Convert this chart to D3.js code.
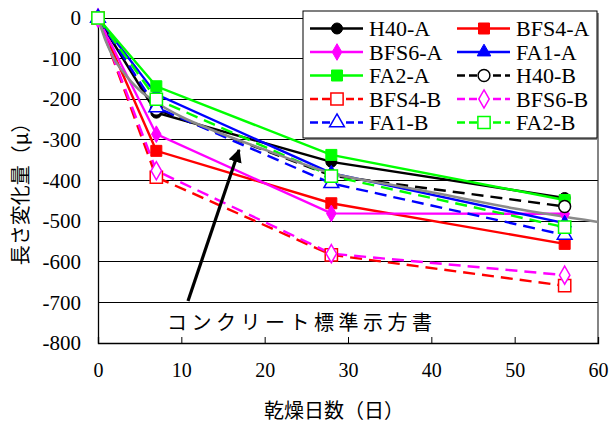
<!DOCTYPE html>
<html>
<head>
<meta charset="utf-8">
<script src="https://cdn.jsdelivr.net/npm/d3@7"></script>
<style>
  html, body { margin: 0; padding: 0; background: #fff; }
  svg { display: block; }
  .serif { font-family: "Liberation Serif", "Times New Roman", Times, "DejaVu Serif", serif; }
  .cjk { font-family: "Noto Sans CJK JP", sans-serif; }
</style>
</head>
<body>
<svg id="chart" width="611" height="426"></svg>
<script>
// Drying days at which length change was measured
const days = [0, 7, 28, 56];

// Length change (μ) per mix
const seriesNames = ["H40-A", "BFS4-A", "BFS6-A", "FA1-A", "FA2-A",
                     "H40-B", "BFS4-B", "BFS6-B", "FA1-B", "FA2-B"];
const h40A  = [0, -233, -354, -443];
const bfs4A = [0, -327, -456, -556];
const bfs6A = [0, -286, -481, -482];
const fa1A  = [0, -188, -382, -505];
const fa2A  = [0, -168, -337, -448];
const h40B  = [0, -225, -388, -464];
const bfs4B = [0, -392, -583, -659];
const bfs6B = [0, -376, -580, -633];
const fa1B  = [0, -220, -407, -534];
const fa2B  = [0, -200, -389, -515];

// Standard specification (コンクリート標準示方書) prediction curve
const stdDays   = [0, 1, 2, 3, 4, 5, 7, 10, 14, 20, 28, 35, 40, 50, 60];
const stdValues = [0, -60, -103, -132, -157, -178, -208, -243, -278, -324, -382, -410, -429, -469, -502];

const xTicks = [0, 10, 20, 30, 40, 50, 60];
const yTicks = [0, -100, -200, -300, -400, -500, -600, -700, -800];

const seriesValues = [h40A, bfs4A, bfs6A, fa1A, fa2A, h40B, bfs4B, bfs6B, fa1B, fa2B];
const seriesStyle = [
  { color: "#000000", dash: null, symbol: d3.symbolCircle,   size: 95,  filled: true },
  { color: "#ff0000", dash: null, symbol: d3.symbolSquare,   size: 121, filled: true },
  { color: "#ff00ff", dash: null, symbol: d3.symbolDiamond,  size: 80,  filled: true },
  { color: "#0000ff", dash: null, symbol: d3.symbolTriangle, size: 80,  filled: true },
  { color: "#00ff00", dash: null, symbol: d3.symbolSquare,   size: 121, filled: true },
  { color: "#000000", dash: "12,7", symbol: d3.symbolCircle,   size: 110, filled: false },
  { color: "#ff0000", dash: "12,7", symbol: d3.symbolSquare,   size: 150, filled: false },
  { color: "#ff00ff", dash: "12,7", symbol: d3.symbolDiamond,  size: 95,  filled: false },
  { color: "#0000ff", dash: "12,7", symbol: d3.symbolTriangle, size: 95,  filled: false },
  { color: "#00ff00", dash: "12,7", symbol: d3.symbolSquare,   size: 150, filled: false }
];

const svg = d3.select("#chart");
const plotLeft = 98, plotRight = 598, plotTop = 18, plotBottom = 343;

const x = d3.scaleLinear().domain([0, 60]).range([plotLeft, plotRight]);
const y = d3.scaleLinear().domain([-800, 0]).range([plotBottom, plotTop]);

// Horizontal gridlines
svg.append("g")
  .selectAll("line")
  .data(yTicks)
  .join("line")
  .attr("x1", plotLeft).attr("x2", plotRight)
  .attr("y1", d => y(d)).attr("y2", d => y(d))
  .attr("stroke", "#000").attr("stroke-width", 1)
  .attr("shape-rendering", "crispEdges");

// Right frame edge
svg.append("line")
  .attr("x1", plotRight).attr("x2", plotRight).attr("y1", plotTop).attr("y2", plotBottom)
  .attr("stroke", "#333").attr("stroke-width", 1.2);

// Y axis (labels only, no tick marks)
const yAxis = d3.axisLeft(y).tickValues(yTicks).tickSize(0).tickPadding(17)
  .tickFormat(d3.format("d"));
const gy = svg.append("g").attr("transform", `translate(${plotLeft},0)`).call(yAxis);
gy.attr("font-family", null).attr("font-size", null);
gy.select(".domain").attr("stroke", "#000").attr("stroke-width", 1.3);
gy.selectAll("text").attr("class", "serif").style("font-size", "21px").attr("fill", "#000")
  .text(d => d === 0 ? "0" : "-" + Math.abs(d));

// X axis with inward ticks
const xAxis = d3.axisBottom(x).tickValues(xTicks).tickSize(-6).tickPadding(20)
  .tickFormat(d3.format("d"));
const gx = svg.append("g").attr("transform", `translate(0,${plotBottom})`).call(xAxis);
gx.attr("font-family", null).attr("font-size", null);
gx.select(".domain").attr("stroke", "#000").attr("stroke-width", 1.3);
gx.selectAll(".tick line").attr("stroke", "#000").attr("stroke-width", 1);
gx.selectAll("text").attr("class", "serif").style("font-size", "20px").attr("fill", "#000");

// Axis titles
svg.append("text")
  .attr("class", "cjk")
  .attr("x", 264).attr("y", 418)
  .attr("textLength", 140).attr("lengthAdjust", "spacing")
  .style("font-size", "20px").attr("fill", "#000")
  .text("乾燥日数（日）");

svg.append("text")
  .attr("class", "cjk")
  .attr("transform", "translate(28,189) rotate(-90)")
  .attr("text-anchor", "middle")
  .style("font-size", "20px").attr("fill", "#000")
  .text("長さ変化量（μ）");

// Series lines
const line = d3.line().x(d => x(d[0])).y(d => y(d[1]));
const linesG = svg.append("g");
seriesValues.forEach((vals, i) => {
  const st = seriesStyle[i];
  linesG.append("path")
    .datum(days.map((d, j) => [d, vals[j]]))
    .attr("d", line)
    .attr("fill", "none")
    .attr("stroke", st.color)
    .attr("stroke-width", 2.4)
    .attr("stroke-dasharray", st.dash);
});

// Prediction curve
svg.append("path")
  .datum(stdDays.map((d, j) => [d, stdValues[j]]))
  .attr("d", d3.line().x(d => x(d[0])).y(d => y(d[1])).curve(d3.curveMonotoneX))
  .attr("fill", "none")
  .attr("stroke", "#8a8a8a")
  .attr("stroke-width", 2.6);

// Markers
function drawMarker(g, st, cx, cy) {
  g.append("path")
    .attr("d", d3.symbol().type(st.symbol).size(st.size)())
    .attr("transform", `translate(${cx},${cy})`)
    .attr("fill", st.filled ? st.color : "#fff")
    .attr("stroke", st.color)
    .attr("stroke-width", st.filled ? 1 : 1.5);
}
const marksG = svg.append("g");
seriesValues.forEach((vals, i) => {
  const st = seriesStyle[i];
  days.forEach((d, j) => drawMarker(marksG, st, x(d), y(vals[j])));
});

// Annotation arrow and label
svg.append("defs").append("marker")
  .attr("id", "arrowHead")
  .attr("viewBox", "0 0 10 10")
  .attr("refX", 9).attr("refY", 5)
  .attr("markerWidth", 4.2).attr("markerHeight", 4.2)
  .attr("orient", "auto")
  .append("path").attr("d", "M0,0 L10,5 L0,10 Z").attr("fill", "#000");

svg.append("line")
  .attr("x1", 188).attr("y1", 301)
  .attr("x2", 239).attr("y2", 150)
  .attr("stroke", "#000").attr("stroke-width", 3.2)
  .attr("marker-end", "url(#arrowHead)");

svg.append("text")
  .attr("class", "cjk")
  .attr("x", 167).attr("y", 330)
  .attr("textLength", 265).attr("lengthAdjust", "spacing")
  .style("font-size", "20px").attr("fill", "#000")
  .text("コンクリート標準示方書");

// Legend
const lg = svg.append("g");
const lgX = 303, lgY = 11, lgW = 294, lgH = 127;
lg.append("rect")
  .attr("x", lgX + 2).attr("y", lgY + 2).attr("width", lgW).attr("height", lgH)
  .attr("fill", "#888");
lg.append("rect")
  .attr("x", lgX).attr("y", lgY).attr("width", lgW).attr("height", lgH)
  .attr("fill", "#fff").attr("stroke", "#000").attr("stroke-width", 1);

const colX = [310, 457];
const rowY0 = 28.5, rowStep = 23.5;
seriesNames.forEach((name, i) => {
  const st = seriesStyle[i];
  const col = i % 2, row = Math.floor(i / 2);
  const x0 = colX[col];
  const yy = rowY0 + row * rowStep;
  lg.append("line")
    .attr("x1", x0).attr("x2", x0 + 53).attr("y1", yy).attr("y2", yy)
    .attr("stroke", st.color).attr("stroke-width", 2.4)
    .attr("stroke-dasharray", st.dash ? "8,4" : null);
  drawMarker(lg, st, x0 + 27, yy);
  lg.append("text")
    .attr("class", "serif")
    .attr("x", x0 + 59).attr("y", yy + 7.5)
    .style("font-size", "22px").attr("fill", "#000")
    .text(name);
});
</script>
</body>
</html>
